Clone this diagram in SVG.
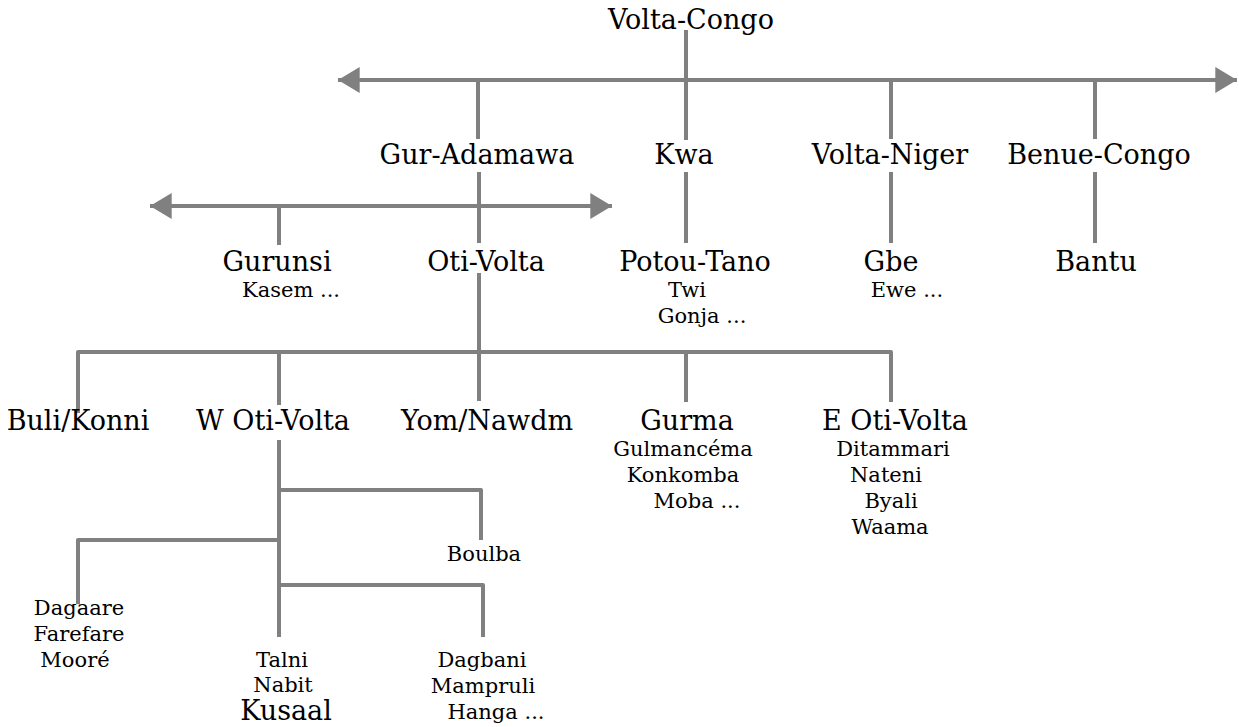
<svg xmlns="http://www.w3.org/2000/svg" width="1239" height="727" viewBox="0 0 1239 727">
<style>
text{font-family:"DejaVu Serif","Liberation Serif",serif;fill:#000;text-anchor:middle}
.L{font-size:27px}
.S{font-size:21px}
.c{stroke:#808080;stroke-width:4;fill:none;stroke-linejoin:round}
</style>
<defs>
<marker id="ah" markerUnits="userSpaceOnUse" markerWidth="22" markerHeight="26" refX="20" refY="12" orient="auto-start-reverse" viewBox="0 0 20 24">
<path d="M0,0 L20,12 L0,24 z" fill="#808080"/>
</marker>
</defs>
<g id="connectors">
<line class="c" x1="338" y1="80" x2="1237" y2="80" marker-start="url(#ah)" marker-end="url(#ah)"/>
<line class="c" x1="686" y1="30" x2="686" y2="140"/>
<line class="c" x1="478" y1="80" x2="478" y2="139"/>
<line class="c" x1="891" y1="80" x2="891" y2="139"/>
<line class="c" x1="1095" y1="80" x2="1095" y2="139"/>
<line class="c" x1="150" y1="206" x2="612" y2="206" marker-start="url(#ah)" marker-end="url(#ah)"/>
<line class="c" x1="479" y1="172" x2="479" y2="243"/>
<line class="c" x1="279" y1="206" x2="279" y2="245"/>
<line class="c" x1="686" y1="172" x2="686" y2="243"/>
<line class="c" x1="891" y1="172" x2="891" y2="243"/>
<line class="c" x1="1095" y1="172" x2="1095" y2="243"/>
<line class="c" x1="479" y1="273" x2="479" y2="401"/>
<path class="c" d="M78,413 V352 H891 V402"/>
<line class="c" x1="279" y1="352" x2="279" y2="405"/>
<line class="c" x1="686" y1="352" x2="686" y2="402"/>
<line class="c" x1="279" y1="440" x2="279" y2="637"/>
<path class="c" d="M279,490 H481 V540"/>
<path class="c" d="M279,540 H78 V604"/>
<path class="c" d="M279,585 H483 V637"/>
</g>
<g id="n-volta-congo"><text class="L" x="691" y="29">Volta-Congo</text></g>
<g id="n-gur-adamawa"><text class="L" x="477" y="164">Gur-Adamawa</text></g>
<g id="n-kwa"><text class="L" x="684" y="164">Kwa</text></g>
<g id="n-volta-niger"><text class="L" x="890" y="164">Volta-Niger</text></g>
<g id="n-benue-congo"><text class="L" x="1099" y="164">Benue-Congo</text></g>
<g id="n-gurunsi"><text class="L" x="277" y="271">Gurunsi</text><text class="S" x="291" y="297">Kasem ...</text></g>
<g id="n-oti-volta"><text class="L" x="486" y="271">Oti-Volta</text></g>
<g id="n-potou-tano"><text class="L" x="695" y="271">Potou-Tano</text><text class="S" x="687" y="297">Twi</text><text class="S" x="702" y="323">Gonja ...</text></g>
<g id="n-gbe"><text class="L" x="891" y="271">Gbe</text><text class="S" x="907" y="297">Ewe ...</text></g>
<g id="n-bantu"><text class="L" x="1096" y="271">Bantu</text></g>
<g id="n-buli"><text class="L" x="78" y="430">Buli/Konni</text></g>
<g id="n-w-oti-volta"><text class="L" x="273" y="430">W Oti-Volta</text></g>
<g id="n-yom"><text class="L" x="487" y="430">Yom/Nawdm</text></g>
<g id="n-gurma"><text class="L" x="687" y="430">Gurma</text><text class="S" x="683" y="456">Gulmancéma</text><text class="S" x="683" y="482">Konkomba</text><text class="S" x="697" y="508">Moba ...</text></g>
<g id="n-e-oti-volta"><text class="L" x="895" y="430">E Oti-Volta</text><text class="S" x="893" y="456">Ditammari</text><text class="S" x="886" y="482">Nateni</text><text class="S" x="891" y="508">Byali</text><text class="S" x="890" y="534">Waama</text></g>
<g id="n-boulba"><text class="S" x="484" y="561">Boulba</text></g>
<g id="n-dagaare"><text class="S" x="79" y="615">Dagaare</text><text class="S" x="79" y="641">Farefare</text><text class="S" x="75" y="667">Mooré</text></g>
<g id="n-kusaal"><text class="S" x="282" y="667">Talni</text><text class="S" x="283" y="692">Nabit</text><text class="L" x="286" y="720">Kusaal</text></g>
<g id="n-dagbani"><text class="S" x="482" y="667">Dagbani</text><text class="S" x="483" y="693">Mampruli</text><text class="S" x="496" y="719">Hanga ...</text></g>
</svg>
